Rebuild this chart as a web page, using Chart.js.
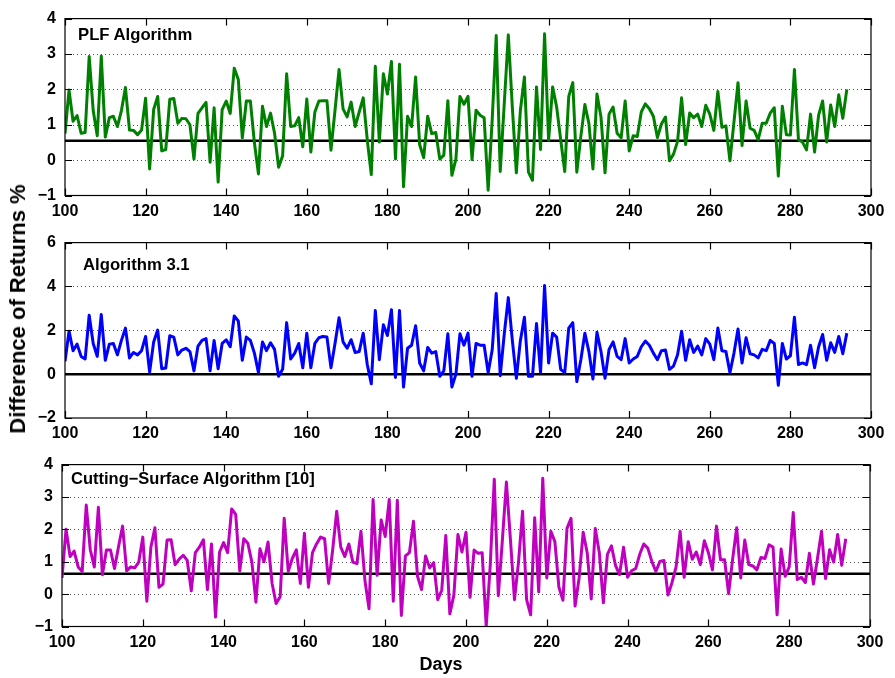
<!DOCTYPE html>
<html>
<head>
<meta charset="utf-8">
<script src="https://cdn.jsdelivr.net/npm/chart.js@4.4.1/dist/chart.umd.min.js"></script>
<style>
  html, body { margin: 0; padding: 0; background: #fff; }
  #fig { position: relative; width: 895px; height: 678px; overflow: hidden;
         font-family: "Liberation Sans", Arial, Helvetica, sans-serif; }
  #fig canvas { position: absolute; left: 0; }
  .lbl { position: absolute; font-weight: bold; color: #000; white-space: nowrap; line-height: 1; }
</style>
</head>
<body>
<div id="fig">
  <canvas id="c1" width="895" height="226"></canvas>
  <canvas id="c2" width="895" height="224"></canvas>
  <canvas id="c3" width="895" height="232"></canvas>

  <div class="lbl" style="left:78px; top:27px; font-size:16.7px;">PLF Algorithm</div>
  <div class="lbl" style="left:83px; top:257px; font-size:16.7px;">Algorithm 3.1</div>
  <div class="lbl" style="left:71px; top:470px; font-size:16.5px;">Cutting−Surface Algorithm [10]</div>
  <div class="lbl" style="left:441px; top:655px; font-size:18px; transform:translateX(-50%);">Days</div>
  <div class="lbl" style="left:18px; top:309px; font-size:22px; transform:translate(-50%,-50%) rotate(-90deg);">Difference of Returns %</div>
</div>

<script>
// ─────────────────────────────────────────────
//  DATA  (one value per day, starting at day 100)
// ─────────────────────────────────────────────

const firstDay = 100;
const xTicks = { min: 100, max: 300, step: 20 };

const plfValues = [
  0.75, 1.98, 1.10, 1.26, 0.76, 0.78, 2.93, 1.40, 0.69, 2.94,
  0.65, 1.20, 1.24, 0.95, 1.40, 2.05, 0.85, 0.84, 0.72, 0.85,
  1.75, -0.25, 1.43, 1.80, 0.26, 0.30, 1.72, 1.74, 1.04, 1.18,
  1.17, 1.00, 0.03, 1.32, 1.48, 1.63, -0.06, 1.48, -0.62, 1.43,
  1.67, 1.32, 2.60, 2.28, 0.63, 1.67, 1.67, 0.49, -0.39, 1.52,
  0.95, 1.33, 0.76, -0.20, 0.12, 2.44, 0.95, 0.97, 1.20, 0.38,
  1.73, 0.23, 1.36, 1.67, 1.68, 1.68, 0.28, 1.41, 2.56, 1.45,
  1.22, 1.64, 0.95, 1.36, 1.76, 0.58, -0.41, 2.65, 0.51, 2.44,
  1.87, 2.79, 0.03, 2.71, -0.75, 1.24, 0.95, 2.35, 0.44, 0.07,
  1.24, 0.75, 0.78, 0.03, 0.14, 1.68, -0.43, 0.03, 1.80, 1.58,
  1.80, 0.01, 1.41, 1.27, 1.20, -0.85, 1.13, 3.52, -0.32, 1.60,
  3.54, 1.50, -0.36, 1.41, 2.35, -0.34, -0.57, 2.07, 0.30, 3.57,
  0.56, 2.07, 1.50, 0.58, -0.32, 1.80, 2.19, -0.34, 0.67, 1.57,
  1.04, -0.25, 1.87, 1.22, -0.36, 1.30, 1.50, 0.76, 0.63, 1.67,
  0.26, 0.69, 0.67, 1.36, 1.59, 1.45, 1.24, 0.64, 1.02, 1.22,
  -0.02, 0.17, 0.53, 1.76, 0.44, 1.33, 1.20, 1.30, 0.95, 1.55,
  1.30, 0.84, 1.94, 0.93, 0.97, -0.02, 1.08, 2.19, 0.41, 1.67,
  0.90, 0.84, 0.58, 1.04, 1.04, 1.33, 1.48, -0.45, 1.52, 0.72,
  0.71, 2.56, 0.58, 0.51, 0.29, 1.30, 0.23, 1.27, 1.67, 0.51,
  1.56, 0.95, 1.85, 1.18, 2.00
];

const alg31Values = [
  0.59, 1.96, 1.07, 1.37, 0.81, 0.69, 2.69, 1.40, 0.81, 2.72,
  0.63, 1.37, 1.40, 0.88, 1.54, 2.10, 0.74, 0.99, 0.88, 1.07,
  1.72, 0.10, 1.47, 2.01, 0.25, 0.28, 1.75, 1.69, 0.88, 1.10,
  1.18, 1.03, 0.15, 1.28, 1.54, 1.62, 0.15, 1.54, 0.25, 1.40,
  1.57, 1.25, 2.65, 2.43, 0.63, 1.69, 1.54, 0.96, 0.07, 1.47,
  1.07, 1.43, 1.13, -0.10, 0.22, 2.35, 0.69, 0.96, 1.40, 0.29,
  1.87, 0.29, 1.40, 1.66, 1.72, 1.69, 0.29, 1.40, 2.57, 1.47,
  1.18, 1.57, 0.99, 1.03, 1.87, 0.44, -0.44, 2.90, 0.66, 2.25,
  1.76, 2.94, -0.15, 2.90, -0.59, 1.18, 1.32, 2.21, 0.51, 0.15,
  1.22, 0.96, 1.03, -0.10, 0.15, 1.84, -0.59, 0.00, 1.84, 1.32,
  1.87, -0.10, 1.40, 1.32, 1.32, 0.07, 1.10, 3.68, -0.07, 1.84,
  3.49, 1.54, -0.19, 1.54, 2.60, -0.10, -0.10, 2.31, 0.07, 4.04,
  0.51, 1.87, 1.69, 0.22, 0.07, 2.10, 2.35, -0.34, 0.66, 1.87,
  1.03, -0.22, 1.91, 1.03, -0.19, 1.13, 1.47, 0.81, 0.66, 1.62,
  0.51, 0.69, 0.81, 1.25, 1.51, 1.32, 0.96, 0.66, 1.07, 1.10,
  0.22, 0.37, 0.88, 1.96, 0.63, 1.57, 0.99, 1.28, 0.88, 1.62,
  1.37, 0.66, 2.10, 1.07, 1.03, 0.07, 0.96, 2.06, 0.51, 1.66,
  0.93, 0.88, 0.74, 1.13, 1.07, 1.54, 1.40, -0.51, 1.40, 0.69,
  0.84, 2.60, 0.44, 0.51, 0.43, 1.32, 0.29, 1.25, 1.81, 0.63,
  1.43, 0.99, 1.72, 0.93, 1.87
];

const cuttingValues = [
  0.50, 2.00, 1.16, 1.33, 0.84, 0.70, 2.75, 1.37, 0.84, 2.68,
  0.60, 1.36, 1.36, 0.79, 1.47, 2.10, 0.72, 0.84, 0.81, 0.99,
  1.76, -0.22, 1.45, 2.05, 0.21, 0.31, 1.67, 1.68, 0.91, 1.08,
  1.20, 1.04, 0.10, 1.28, 1.45, 1.68, 0.14, 1.55, -0.71, 1.30,
  1.59, 1.28, 2.63, 2.46, 0.72, 1.71, 1.57, 0.99, -0.25, 1.40,
  1.00, 1.61, 0.33, -0.29, -0.08, 2.34, 0.70, 1.10, 1.37, 0.33,
  1.88, 0.21, 1.28, 1.55, 1.76, 1.71, 0.33, 1.37, 2.56, 1.45,
  1.16, 1.55, 0.99, 0.94, 1.94, 0.41, -0.45, 2.92, 0.58, 2.29,
  1.78, 2.92, -0.22, 2.90, -0.66, 1.18, 1.28, 2.25, 0.55, 0.14,
  1.18, 0.81, 0.97, -0.17, 0.12, 1.81, -0.61, -0.03, 1.84, 1.30,
  1.91, -0.10, 1.36, 1.26, 1.28, -1.00, 0.89, 3.55, -0.05, 1.66,
  3.46, 1.68, -0.17, 0.99, 2.56, -0.17, -0.64, 2.36, 0.07, 3.58,
  0.50, 1.94, 1.62, 0.21, -0.19, 2.03, 2.34, -0.37, 0.50, 1.91,
  1.28, -0.15, 2.03, 1.28, -0.27, 1.23, 1.49, 0.89, 0.60, 1.45,
  0.52, 0.72, 0.79, 1.23, 1.55, 1.42, 1.01, 0.70, 1.01, 1.04,
  -0.03, 0.36, 0.84, 1.94, 0.52, 1.62, 1.08, 1.30, 0.91, 1.65,
  1.28, 0.75, 2.10, 1.06, 1.06, 0.02, 1.08, 2.05, 0.50, 1.67,
  0.91, 0.87, 0.75, 1.13, 1.10, 1.52, 1.45, -0.64, 1.39, 0.55,
  0.84, 2.52, 0.45, 0.52, 0.36, 1.26, 0.31, 1.10, 1.94, 0.48,
  1.37, 0.99, 1.84, 0.89, 1.71
];

// horizontal reference level drawn in each panel
const refLevels = [0.55, 0, 0.63];

// ─────────────────────────────────────────────
//  PANELS
// ─────────────────────────────────────────────

const panels = [
  { id: 'c1', top: 0,   areaTop: 13.5, areaBottom: 195.5, left: 65, right: 871,
    values: plfValues, color: '#008000', ref: refLevels[0], yMin: -1, yMax: 4, yStep: 1 },
  { id: 'c2', top: 224, areaTop: 237,  areaBottom: 418,   left: 65, right: 871,
    values: alg31Values, color: '#0000ff', ref: refLevels[1], yMin: -2, yMax: 6, yStep: 2 },
  { id: 'c3', top: 446, areaTop: 454,  areaBottom: 626.5, left: 62, right: 870,
    values: cuttingValues, color: '#bf00bf', ref: refLevels[2], yMin: -1, yMax: 4, yStep: 1 }
];

const tickFont = { family: '"Liberation Sans", Arial, Helvetica, sans-serif', size: 16, weight: 'bold' };

// dotted y grid, box and inward tick marks, matlab style
const framePlugin = {
  id: 'frame',
  beforeDatasetsDraw(chart) {
    const { ctx, chartArea: a, scales: { y } } = chart;
    ctx.save();
    ctx.strokeStyle = '#555';
    ctx.lineWidth = 1;
    ctx.setLineDash([1, 3]);
    y.ticks.forEach(t => {
      const py = Math.round(y.getPixelForValue(t.value)) + 0.5;
      if (py <= a.top + 2 || py >= a.bottom - 2) return;
      ctx.beginPath();
      ctx.moveTo(a.left, py);
      ctx.lineTo(a.right, py);
      ctx.stroke();
    });
    ctx.restore();
  },
  afterDatasetsDraw(chart) {
    const { ctx, chartArea: a, scales: { x, y } } = chart;
    const len = 7;
    ctx.save();
    ctx.strokeStyle = '#000';
    ctx.lineWidth = 1.2;
    ctx.beginPath();
    x.ticks.forEach(t => {
      const px = Math.round(x.getPixelForValue(t.value)) + 0.5;
      ctx.moveTo(px, a.bottom); ctx.lineTo(px, a.bottom - len);
      ctx.moveTo(px, a.top); ctx.lineTo(px, a.top + len);
    });
    y.ticks.forEach(t => {
      const py = Math.round(y.getPixelForValue(t.value)) + 0.5;
      ctx.moveTo(a.left, py); ctx.lineTo(a.left + len, py);
      ctx.moveTo(a.right, py); ctx.lineTo(a.right - len, py);
    });
    ctx.stroke();
    ctx.strokeRect(a.left, a.top, a.right - a.left, a.bottom - a.top);
    ctx.restore();
  }
};

function fmtTick(v) {
  return v < 0 ? '\u2212' + Math.abs(v) : String(v);
}

function renderPanel(p) {
  const canvas = document.getElementById(p.id);
  canvas.style.top = p.top + 'px';
  const points = p.values.map((v, i) => ({ x: firstDay + i, y: v }));

  return new Chart(canvas.getContext('2d'), {
    type: 'line',
    data: {
      datasets: [
        { data: points, borderColor: p.color, borderWidth: 3, pointRadius: 0, tension: 0,
          borderJoinStyle: 'round' },
        { data: [{ x: xTicks.min, y: p.ref }, { x: xTicks.max, y: p.ref }],
          borderColor: '#000', borderWidth: 2.5, pointRadius: 0 }
      ]
    },
    options: {
      responsive: false,
      animation: false,
      devicePixelRatio: 1,
      layout: { padding: { top: p.areaTop - p.top, right: 895 - p.right, left: 0, bottom: 0 } },
      plugins: { legend: { display: false }, tooltip: { enabled: false } },
      scales: {
        x: {
          type: 'linear', min: xTicks.min, max: xTicks.max,
          grid: { display: false, drawTicks: false }, border: { display: false },
          ticks: { stepSize: xTicks.step, font: tickFont, color: '#000', padding: 6, maxRotation: 0,
                   autoSkip: false },
          afterFit: s => { s.height = canvas.height - (p.areaBottom - p.top); }
        },
        y: {
          min: p.yMin, max: p.yMax,
          grid: { display: false, drawTicks: false }, border: { display: false },
          ticks: { stepSize: p.yStep, font: tickFont, color: '#000', padding: 9, callback: fmtTick },
          afterFit: s => { s.width = p.left; }
        }
      }
    },
    plugins: [framePlugin]
  });
}

panels.forEach(renderPanel);
</script>
</body>
</html>
